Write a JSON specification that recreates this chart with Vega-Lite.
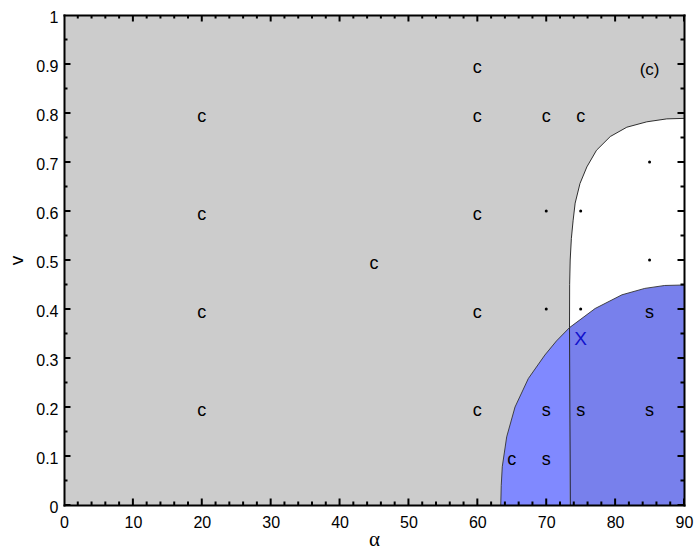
{
  "$schema": "https://vega.github.io/schema/vega-lite/v6.json",
  "width": 620,
  "height": 490,
  "autosize": "none",
  "padding": {"left": 64, "top": 15, "right": 16, "bottom": 51},
  "background": "white",
  "config": {
    "view": {"stroke": null, "fill": "#cccccc"},
    "font": "Liberation Sans",
    "axis": {"grid": false, "tickColor": "black", "domainColor": "black", "labelFlush": false}
  },
  "datasets": {
    "boundary": [
      {"v": 0, "a": 73.5}, {"v": 0.1, "a": 73.47}, {"v": 0.2, "a": 73.43}, {"v": 0.3, "a": 73.4},
      {"v": 0.362, "a": 73.38}, {"v": 0.45, "a": 73.4}, {"v": 0.5, "a": 73.48}, {"v": 0.544, "a": 73.65},
      {"v": 0.58, "a": 73.9}, {"v": 0.616, "a": 74.2}, {"v": 0.656, "a": 74.9}, {"v": 0.69, "a": 75.9},
      {"v": 0.724, "a": 77.3}, {"v": 0.752, "a": 79.3}, {"v": 0.771, "a": 81.7}, {"v": 0.782, "a": 84.6},
      {"v": 0.788, "a": 87.5}, {"v": 0.789, "a": 90}
    ],
    "arc": [
      {"a": 63.4, "v": 0}, {"a": 63.47, "v": 0.04}, {"a": 63.62, "v": 0.078}, {"a": 64.26, "v": 0.139},
      {"a": 65.47, "v": 0.2}, {"a": 67.4, "v": 0.258}, {"a": 69.8, "v": 0.306}, {"a": 71.5, "v": 0.335},
      {"a": 73.38, "v": 0.362}, {"a": 77.1, "v": 0.401}, {"a": 81.0, "v": 0.429}, {"a": 84.3, "v": 0.442},
      {"a": 87.2, "v": 0.448}, {"a": 90, "v": 0.449}
    ],
    "labels": [
      {"a": 20, "v": 0.8, "t": "c"}, {"a": 20, "v": 0.6, "t": "c"}, {"a": 20, "v": 0.4, "t": "c"}, {"a": 20, "v": 0.2, "t": "c"},
      {"a": 45, "v": 0.5, "t": "c"}, {"a": 60, "v": 0.9, "t": "c"}, {"a": 60, "v": 0.8, "t": "c"}, {"a": 60, "v": 0.6, "t": "c"},
      {"a": 60, "v": 0.4, "t": "c"}, {"a": 60, "v": 0.2, "t": "c"}, {"a": 70, "v": 0.8, "t": "c"}, {"a": 75, "v": 0.8, "t": "c"},
      {"a": 65, "v": 0.1, "t": "c"}, {"a": 70, "v": 0.2, "t": "s"}, {"a": 75, "v": 0.2, "t": "s"}, {"a": 85, "v": 0.2, "t": "s"},
      {"a": 70, "v": 0.1, "t": "s"}, {"a": 85, "v": 0.4, "t": "s"}
    ],
    "dots": [
      {"a": 70, "v": 0.6}, {"a": 75, "v": 0.6}, {"a": 70, "v": 0.4}, {"a": 75, "v": 0.4}, {"a": 85, "v": 0.7}, {"a": 85, "v": 0.5}
    ],
    "marker": [{"a": 75, "v": 0.35, "t": "X"}],
    "panel": [{"a": 85, "v": 0.9, "t": "(c)"}],
    "xticks": [
      {"a": 0, "major": true}, {"a": 2, "major": false}, {"a": 4, "major": false}, {"a": 6, "major": false}, {"a": 8, "major": false},
      {"a": 10, "major": true}, {"a": 12, "major": false}, {"a": 14, "major": false}, {"a": 16, "major": false}, {"a": 18, "major": false},
      {"a": 20, "major": true}, {"a": 22, "major": false}, {"a": 24, "major": false}, {"a": 26, "major": false}, {"a": 28, "major": false},
      {"a": 30, "major": true}, {"a": 32, "major": false}, {"a": 34, "major": false}, {"a": 36, "major": false}, {"a": 38, "major": false},
      {"a": 40, "major": true}, {"a": 42, "major": false}, {"a": 44, "major": false}, {"a": 46, "major": false}, {"a": 48, "major": false},
      {"a": 50, "major": true}, {"a": 52, "major": false}, {"a": 54, "major": false}, {"a": 56, "major": false}, {"a": 58, "major": false},
      {"a": 60, "major": true}, {"a": 62, "major": false}, {"a": 64, "major": false}, {"a": 66, "major": false}, {"a": 68, "major": false},
      {"a": 70, "major": true}, {"a": 72, "major": false}, {"a": 74, "major": false}, {"a": 76, "major": false}, {"a": 78, "major": false},
      {"a": 80, "major": true}, {"a": 82, "major": false}, {"a": 84, "major": false}, {"a": 86, "major": false}, {"a": 88, "major": false},
      {"a": 90, "major": true}
    ],
    "yticks": [
      {"v": 0, "major": true}, {"v": 0.05, "major": false}, {"v": 0.1, "major": true}, {"v": 0.15, "major": false},
      {"v": 0.2, "major": true}, {"v": 0.25, "major": false}, {"v": 0.3, "major": true}, {"v": 0.35, "major": false},
      {"v": 0.4, "major": true}, {"v": 0.45, "major": false}, {"v": 0.5, "major": true}, {"v": 0.55, "major": false},
      {"v": 0.6, "major": true}, {"v": 0.65, "major": false}, {"v": 0.7, "major": true}, {"v": 0.75, "major": false},
      {"v": 0.8, "major": true}, {"v": 0.85, "major": false}, {"v": 0.9, "major": true}, {"v": 0.95, "major": false},
      {"v": 1, "major": true}
    ]
  },
  "resolve": {"axis": {"x": "independent", "y": "independent"}},
  "layer": [
    {
      "data": {"name": "boundary"},
      "mark": {"type": "area", "orient": "horizontal", "fill": "white"},
      "encoding": {
        "y": {"field": "v", "type": "quantitative", "scale": {"domain": [0, 1], "nice": false},
          "axis": {"orient": "left", "values": [0, 0.1, 0.2, 0.3, 0.4, 0.5, 0.6, 0.7, 0.8, 0.9, 1], "format": "~g", "ticks": false,
            "domain": true, "domainWidth": 2, "domainCap": "square", "zindex": 3,
            "labelFontSize": 16, "labelColor": "black", "labelPadding": 6, "labelOffset": 2, "labelFont": "Liberation Sans",
            "title": "v", "titleFont": "Liberation Sans", "titleFontSize": 19, "titleFontWeight": "normal", "titleColor": "black",
            "titleAngle": -90, "titleBaseline": "alphabetic", "titleAlign": "center", "titleX": -42, "titleY": 245}},
        "x": {"field": "a", "type": "quantitative", "scale": {"domain": [0, 90], "nice": false},
          "axis": {"orient": "bottom", "values": [0, 10, 20, 30, 40, 50, 60, 70, 80, 90], "ticks": false,
            "domain": true, "domainWidth": 2, "domainCap": "square", "zindex": 3,
            "labelFontSize": 16, "labelColor": "black", "labelPadding": 9, "labelFont": "Liberation Sans",
            "title": "α", "titleFont": "Liberation Serif", "titleFontSize": 21, "titleFontWeight": "normal", "titleColor": "black",
            "titleBaseline": "alphabetic", "titleY": 40}},
        "x2": {"datum": 90}
      }
    },
    {
      "data": {"name": "arc"},
      "transform": [{"filter": "datum.a <= 73.4"}],
      "mark": {"type": "area", "fill": "#8089ff"},
      "encoding": {
        "x": {"field": "a", "type": "quantitative",
          "axis": {"orient": "top", "values": [], "labels": false, "ticks": false, "title": null, "domain": true, "domainWidth": 2, "domainCap": "square", "zindex": 3}},
        "y": {"field": "v", "type": "quantitative",
          "axis": {"orient": "right", "values": [], "labels": false, "ticks": false, "title": null, "domain": true, "domainWidth": 2, "domainCap": "square", "zindex": 3}},
        "y2": {"datum": 0}
      }
    },
    {
      "data": {"name": "arc"},
      "transform": [{"filter": "datum.a >= 73.38"}],
      "mark": {"type": "area", "fill": "#7880ec"},
      "encoding": {
        "x": {"field": "a", "type": "quantitative", "axis": null},
        "y": {"field": "v", "type": "quantitative", "axis": null},
        "y2": {"datum": 0}
      }
    },
    {
      "data": {"name": "boundary"},
      "mark": {"type": "line", "stroke": "#1a1a1a", "strokeWidth": 0.9},
      "encoding": {
        "x": {"field": "a", "type": "quantitative", "axis": null},
        "y": {"field": "v", "type": "quantitative", "axis": null},
        "order": {"field": "v", "type": "quantitative"}
      }
    },
    {
      "data": {"name": "arc"},
      "mark": {"type": "line", "stroke": "#333333", "strokeWidth": 0.9},
      "encoding": {
        "x": {"field": "a", "type": "quantitative", "axis": null},
        "y": {"field": "v", "type": "quantitative", "axis": null},
        "order": {"field": "a", "type": "quantitative"}
      }
    },
    {
      "data": {"name": "xticks"},
      "mark": {"type": "tick", "orient": "vertical", "thickness": 2, "color": "black", "opacity": 1, "clip": true},
      "encoding": {
        "x": {"field": "a", "type": "quantitative", "axis": null},
        "y": {"datum": 0, "type": "quantitative", "axis": null},
        "size": {"condition": {"test": "datum.major", "value": 13}, "value": 7}
      }
    },
    {
      "data": {"name": "xticks"},
      "mark": {"type": "tick", "orient": "vertical", "thickness": 2, "color": "black", "opacity": 1, "clip": true},
      "encoding": {
        "x": {"field": "a", "type": "quantitative", "axis": null},
        "y": {"datum": 1, "type": "quantitative", "axis": null},
        "size": {"condition": {"test": "datum.major", "value": 13}, "value": 7}
      }
    },
    {
      "data": {"name": "yticks"},
      "mark": {"type": "tick", "orient": "horizontal", "thickness": 2, "color": "black", "opacity": 1, "clip": true},
      "encoding": {
        "y": {"field": "v", "type": "quantitative", "axis": null},
        "x": {"datum": 0, "type": "quantitative", "axis": null},
        "size": {"condition": {"test": "datum.major", "value": 13}, "value": 7}
      }
    },
    {
      "data": {"name": "yticks"},
      "mark": {"type": "tick", "orient": "horizontal", "thickness": 2, "color": "black", "opacity": 1, "clip": true},
      "encoding": {
        "y": {"field": "v", "type": "quantitative", "axis": null},
        "x": {"datum": 90, "type": "quantitative", "axis": null},
        "size": {"condition": {"test": "datum.major", "value": 13}, "value": 7}
      }
    },
    {
      "data": {"name": "labels"},
      "mark": {"type": "text", "font": "Liberation Sans", "fontSize": 18, "color": "black", "baseline": "middle", "align": "center", "dy": 4},
      "encoding": {
        "x": {"field": "a", "type": "quantitative", "axis": null},
        "y": {"field": "v", "type": "quantitative", "axis": null},
        "text": {"field": "t"}
      }
    },
    {
      "data": {"name": "dots"},
      "mark": {"type": "point", "filled": true, "shape": "circle", "size": 9, "color": "black", "opacity": 1},
      "encoding": {
        "x": {"field": "a", "type": "quantitative", "axis": null},
        "y": {"field": "v", "type": "quantitative", "axis": null}
      }
    },
    {
      "data": {"name": "marker"},
      "mark": {"type": "text", "font": "Liberation Sans", "fontSize": 19, "color": "#1212cc", "baseline": "middle", "align": "center", "dy": 5},
      "encoding": {
        "x": {"field": "a", "type": "quantitative", "axis": null},
        "y": {"field": "v", "type": "quantitative", "axis": null},
        "text": {"field": "t"}
      }
    },
    {
      "data": {"name": "panel"},
      "mark": {"type": "text", "font": "Liberation Sans", "fontSize": 17, "color": "black", "baseline": "middle", "align": "center", "dy": 6},
      "encoding": {
        "x": {"field": "a", "type": "quantitative", "axis": null},
        "y": {"field": "v", "type": "quantitative", "axis": null},
        "text": {"field": "t"}
      }
    }
  ]
}
